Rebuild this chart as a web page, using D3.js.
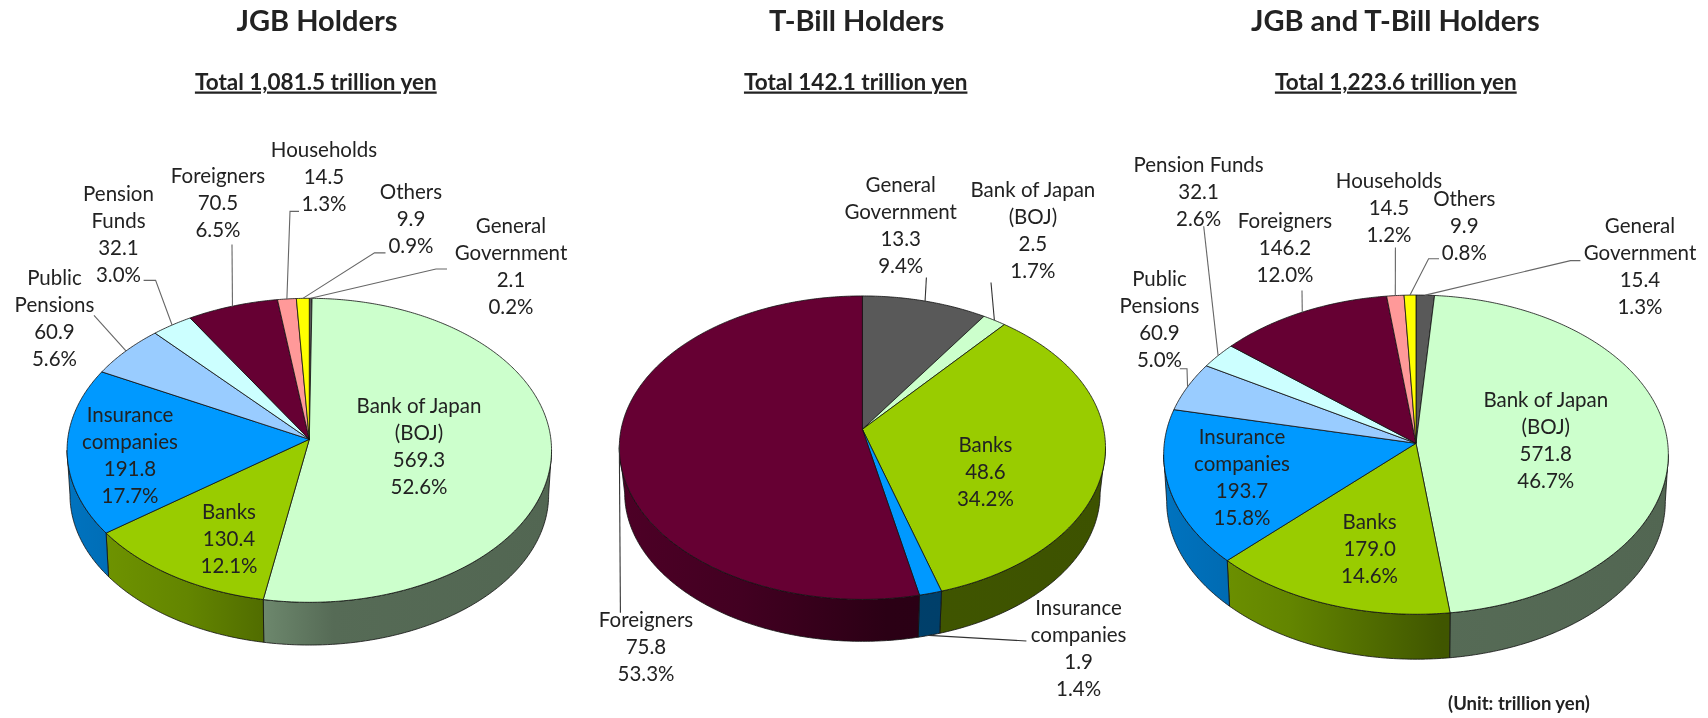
<!DOCTYPE html>
<html>
<head>
<meta charset="utf-8">
<script src="https://cdnjs.cloudflare.com/ajax/libs/d3/7.8.5/d3.min.js"></script>
<style>
html,body{margin:0;padding:0;background:#fff}
svg{display:block;filter:blur(0.35px)}
text{font-family:Lato,"Open Sans",sans-serif;fill:#222}
</style>
</head>
<body>
<svg id="canvas" width="1708" height="718"></svg>
<script>
const holdersAll=["General Government","Bank of Japan","Banks","Insurance companies","Public Pensions","Pension Funds","Foreigners","Households","Others"]
const holdersTbill=["General Government","Bank of Japan","Banks","Insurance companies","Foreigners"]

const jgbValues=[2.1,569.3,130.4,191.8,60.9,32.1,70.5,14.5,9.9]
const jgbShares=["0.2%","52.6%","12.1%","17.7%","5.6%","3.0%","6.5%","1.3%","0.9%"]
const tbillValues=[13.3,2.5,48.6,1.9,75.8]
const tbillShares=["9.4%","1.7%","34.2%","1.4%","53.3%"]
const totalValues=[15.4,571.8,179.0,193.7,60.9,32.1,146.2,14.5,9.9]
const totalShares=["1.3%","46.7%","14.6%","15.8%","5.0%","2.6%","12.0%","1.2%","0.8%"]

const titles=["JGB Holders","T-Bill Holders","JGB and T-Bill Holders"]
const subtitles=["Total 1,081.5 trillion yen","Total 142.1 trillion yen","Total 1,223.6 trillion yen"]

const colors={
    "General Government":"#595959",
    "Bank of Japan":"#ccffcc",
    "Banks":"#99cc00",
    "Insurance companies":"#0099ff",
    "Public Pensions":"#99ccff",
    "Pension Funds":"#ccffff",
    "Foreigners":"#660033",
    "Households":"#ff9999",
    "Others":"#ffff00"
}

// how each holder name wraps in a label
const nameLines={
    "General Government":["General","Government"],
    "Bank of Japan":["Bank of Japan","(BOJ)"],
    "Banks":["Banks"],
    "Insurance companies":["Insurance","companies"],
    "Public Pensions":["Public","Pensions"],
    "Pension Funds":["Pension","Funds"],
    "Foreigners":["Foreigners"],
    "Households":["Households"],
    "Others":["Others"]
}

// layout: pie geometry, label spots (x, y of first line) and leader elbows, by holder name
const charts=[
    {
        title:0,names:holdersAll,values:jgbValues,shares:jgbShares,
        titleX:317,subX:315.8,
        cx:309.3,cy:439.3,a:241.6,b:151.2,k:0.0724,depth:44.7,shrink:0.988,
        leaderColor:"#666",
        labels:{
            "General Government":[511,226],"Bank of Japan":[419,406],"Banks":[229,512],
            "Insurance companies":[130,415],"Public Pensions":[54.5,277.5],"Pension Funds":[118.5,193.6],
            "Foreigners":[218,176.4],"Households":[324,150],"Others":[411,192]
        },
        leaders:{
            "General Government":[[447,269],[436,269]],
            "Public Pensions":[[94,315.4]],
            "Pension Funds":[[143.6,280.4],[155.6,280.4]],
            "Foreigners":[[232,244.6]],
            "Households":[[299,211.4],[290,211.4]],
            "Others":[[385.5,252.9],[374.5,252.9]]
        }
    },
    {
        title:1,names:holdersTbill,values:tbillValues,shares:tbillShares,
        titleX:856.7,subX:855.7,
        cx:862.4,cy:429.3,a:241.3,b:149.5,k:0.121,depth:45.7,shrink:0.978,
        leaderColor:"#333",
        labels:{
            "General Government":[900.7,185],"Bank of Japan":[1032.9,189.8],"Banks":[985.4,445],
            "Insurance companies":[1078.6,608],"Foreigners":[646,620]
        },
        leaders:{
            "General Government":[[926.4,277.5]],
            "Bank of Japan":[[991,282.5]],
            "Insurance companies":[[1026.4,641]],
            "Foreigners":[[620.4,612.7]]
        },
        wallLeader:"Insurance companies"
    },
    {
        title:2,names:holdersAll,values:totalValues,shares:totalShares,
        titleX:1395.3,subX:1395.8,
        cx:1416,cy:443.3,a:251.7,b:158.8,k:0.0711,depth:47,shrink:0.988,
        leaderColor:"#666",
        wraps:{"Pension Funds":["Pension Funds"]},
        labels:{
            "General Government":[1640,226],"Bank of Japan":[1545.8,400],"Banks":[1369.6,522],
            "Insurance companies":[1242,437],"Public Pensions":[1159.5,278.5],"Pension Funds":[1198.6,165.4],
            "Foreigners":[1285,221],"Households":[1389,180.7],"Others":[1464.3,199.4]
        },
        leaders:{
            "General Government":[[1580.4,260.6],[1570.5,260.6]],
            "Public Pensions":[[1179.8,368.8],[1187,368.8]],
            "Pension Funds":[[1203.7,226.3]],
            "Foreigners":[[1302,290.4]],
            "Households":[[1395.4,247.5]],
            "Others":[[1439,258.7],[1428.6,258.7]]
        }
    }
]

const lineGap=27
const canvas=d3.select("#canvas")
const defs=canvas.append("defs")

// wall lighting by horizontal place on the pie, -1 left edge, 1 right edge
const shade=d3.scaleLinear().domain([-1,-0.5,0.1,1]).range([0.75,0.65,0.42,0.4])

const pie=d3.pie().sort(null).value(d=>d.value).startAngle(0).endAngle(2*Math.PI)
const line=d3.line()

let drawChart=(c,ci)=>{
    const g=canvas.append("g")
    const project=(t,s=1,dy=0)=>{
        const u=Math.sin(t),v=Math.cos(t),w=1+c.k*v
        return [c.cx+s*c.a*u/w,c.cy+dy-s*c.b*v/w]
    }
    const arcPoints=(t0,t1,s,dy)=>{
        const n=Math.max(2,Math.ceil(Math.abs(t1-t0)/0.01))
        return d3.range(n+1).map(i=>project(t0+(t1-t0)*i/n,s,dy))
    }
    const slices=pie(c.names.map((n,i)=>({name:n,value:c.values[i],share:c.shares[i]})))

    // side wall, only the part facing the viewer
    const tv=Math.acos(-c.k)
    const walls=slices.filter(d=>d.endAngle>tv&&d.startAngle<2*Math.PI-tv)
    walls.forEach((d,i)=>{
        const id=`wall-${ci}-${i}`
        const grad=defs.append("linearGradient").attr("id",id).attr("gradientUnits","userSpaceOnUse")
            .attr("x1",c.cx-c.a).attr("x2",c.cx+c.a).attr("y1",0).attr("y2",0)
        shade.domain().forEach(x=>{
            const base=d3.rgb(colors[d.data.name])
            const f=shade(x)
            grad.append("stop").attr("offset",(x+1)/2)
                .attr("stop-color",d3.rgb(base.r*f,base.g*f,base.b*f).formatHex())
        })
    })
    g.selectAll("path.wall").data(walls).enter().append("path")
        .attr("class","wall")
        .attr("d",d=>{
            const t0=Math.max(d.startAngle,tv),t1=Math.min(d.endAngle,2*Math.PI-tv)
            const top=arcPoints(t0,t1,1,0)
            const bottom=arcPoints(t1,t0,c.shrink,c.depth)
            return line(top.concat(bottom))+"Z"
        })
        .attr("fill",(d,i)=>`url(#wall-${ci}-${i})`)
        .attr("stroke","#111").attr("stroke-width",0.8).attr("stroke-linejoin","round")

    // top faces
    g.selectAll("path.slice").data(slices).enter().append("path")
        .attr("class","slice")
        .attr("d",d=>line([[c.cx,c.cy]].concat(arcPoints(d.startAngle,d.endAngle,1,0)))+"Z")
        .attr("fill",d=>colors[d.data.name])
        .attr("stroke","#111").attr("stroke-width",0.8).attr("stroke-linejoin","round")

    // leader lines end on the rim at the middle of their slice
    slices.filter(d=>c.leaders[d.data.name]).forEach(d=>{
        const mid=(d.startAngle+d.endAngle)/2
        const end=c.wallLeader===d.data.name?project(mid,c.shrink,c.depth):project(mid)
        g.append("path")
            .attr("d",line(c.leaders[d.data.name].concat([end])))
            .attr("fill","none").attr("stroke",c.leaderColor).attr("stroke-width",1.1)
    })

    // labels
    slices.forEach(d=>{
        const spot=c.labels[d.data.name]
        const wrap=(c.wraps&&c.wraps[d.data.name])||nameLines[d.data.name]
        const rows=wrap.concat([d.data.value.toFixed(1),d.data.share])
        const t=g.append("text").attr("text-anchor","middle").attr("font-size",20.5)
        t.selectAll("tspan").data(rows).enter().append("tspan")
            .attr("x",spot[0])
            .attr("y",(r,i)=>spot[1]+7+i*lineGap)
            .text(r=>r)
    })

    g.append("text").attr("x",c.titleX).attr("y",31).attr("text-anchor","middle")
        .attr("font-size",29).attr("font-weight",700).text(titles[c.title])
    g.append("text").attr("x",c.subX).attr("y",89.5).attr("text-anchor","middle")
        .attr("font-size",22.5).attr("font-weight",700)
        .style("text-decoration","underline").text(subtitles[c.title])
}

charts.forEach(drawChart)

canvas.append("text").attr("x",1519).attr("y",710).attr("text-anchor","middle")
    .attr("font-size",18.5).attr("font-weight",700).text("(Unit: trillion yen)")
</script>
</body>
</html>
